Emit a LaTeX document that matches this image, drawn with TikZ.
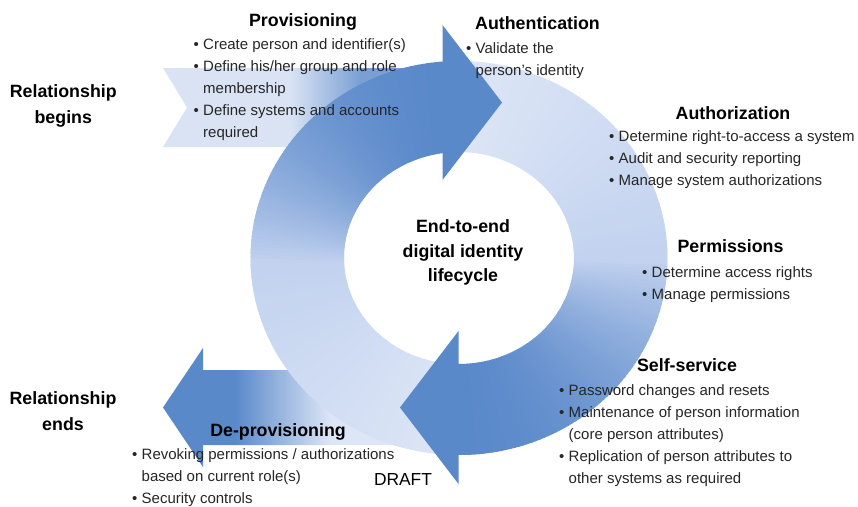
\documentclass[tikz,border=0pt]{standalone}
\usepackage{fontspec}
\setmainfont{Liberation Sans}
\usetikzlibrary{calc}

\definecolor{ringdark}{HTML}{5A89CA}
\definecolor{ringmid}{HTML}{C2D2EF}
\definecolor{ringpale}{HTML}{DDE6F6}
\definecolor{bandpale}{HTML}{D9E3F4}
\definecolor{bodytext}{HTML}{262626}

% bullet and hanging indent for list lines
\newcommand\bul{\makebox[9.5pt][l]{\textbullet}}
\newcommand\cnt{\hspace*{9.5pt}}

% curved arrow shaft drawn as thin ring slices, pale at the tail and dark at the head
% #1/#2: outer start/end angle, #3/#4: inner start/end angle
\newcommand\ringslices[4]{%
  \pgfmathsetmacro\ostep{(#2-#1)/144}%
  \pgfmathsetmacro\istep{(#4-#3)/144}%
  \foreach \i in {0,...,143}{%
    \pgfmathsetmacro\st{(\i+0.5)/144}%
    \pgfmathsetmacro\nx{min(\i+1.6,144)}%
    \pgfmathsetmacro\oa{#1+\ostep*\i}%
    \pgfmathsetmacro\ob{#1+\ostep*\nx}%
    \pgfmathsetmacro\ia{#3+\istep*\i}%
    \pgfmathsetmacro\ib{#3+\istep*\nx}%
    \pgfmathsetmacro\pa{min(100,200*\st)}%
    \pgfmathsetmacro\pb{\st>0.5 ? 100*(1-(2-2*\st)^2) : 0}%
    \colorlet{sliceA}{ringmid!\pa!ringpale}%
    \colorlet{sliceB}{ringdark!\pb!sliceA}%
    \fill[sliceB] (\oa:208.5 and 197)
      arc[start angle=\oa, end angle=\ob, x radius=208.5, y radius=197]
      -- (\ib:115 and 106)
      arc[start angle=\ib, end angle=\ia, x radius=115, y radius=106] -- cycle;
  }%
}

\tikzset{
  ttl/.style={font=\fontsize{17.8}{25}\selectfont\bfseries, text=black, inner sep=0pt, anchor=base},
  blist/.style={font=\fontsize{15}{22}\selectfont, text=bodytext, inner sep=0pt, anchor=north west, align=left},
  side/.style={font=\fontsize{17.8}{25.5}\selectfont\bfseries, text=black, inner sep=0pt, anchor=north, align=center},
}

\begin{document}
\begin{tikzpicture}[x=1pt,y=-1pt]
\useasboundingbox (0,0) rectangle (858,506);

% incoming band on the left ("relationship begins")
\begin{scope}
  \clip (163,68) -- (425,68) -- (425,147) -- (163,147) -- (187,107.5) -- cycle;
  \fill[bandpale] (160,60) rectangle (291,150);
  \shade[left color=bandpale, right color=ringdark!75!bandpale] (290,60) rectangle (361,150);
  \fill[ringdark!75!bandpale] (360,60) rectangle (430,150);
\end{scope}

% outgoing arrow on the left ("relationship ends")
\begin{scope}
  \clip (163,407.5) -- (203,348) -- (203,370) -- (405,370) -- (405,445) -- (203,445) -- (203,467) -- cycle;
  \fill[ringdark] (160,340) rectangle (236,470);
  \shade[left color=ringdark, right color=ringpale] (235,340) rectangle (331,470);
  \fill[ringpale] (330,340) rectangle (410,470);
\end{scope}

% the two curved arrows of the lifecycle ring
\begin{scope}[shift={(459,258)}]
  \ringslices{92}{265.6}{92}{262.0}
  \ringslices{271.5}{450.27}{271.5}{450.5}
\end{scope}
\fill[ringdark] (458.5,331) -- (400,407.5) -- (458.5,484) -- cycle;
\fill[ringdark] (442.5,25) -- (502,102.5) -- (442.5,180) -- cycle;

% side labels
\node[side] (begins) at (63.3,84.85) {Relationship\\begins};
\node[side] (ends) at (63,391.45) {Relationship\\ends};

% centre label
\node[font=\fontsize{17.8}{24.2}\selectfont\bfseries, inner sep=0pt, anchor=north, align=center]
  (life) at (463,219.8) {End-to-end\\digital identity\\lifecycle};

% stages
\node[ttl] (provT) at (303,26) {Provisioning};
\node[blist] (provB) at (193.5,33.9)
  {\strut\bul Create person and identifier(s)\\
   \strut\bul Define his/her group and role\\
   \strut\cnt membership\\
   \strut\bul Define systems and accounts\\
   \strut\cnt required};

\node[ttl] (authT) at (537.5,29.3) {Authentication};
\node[blist] (authB) at (466,37.9)
  {\strut\bul Validate the\\
   \strut\cnt person’s identity};

\node[ttl] (azT) at (733,119.3) {Authorization};
\node[blist] (azB) at (609,126.3)
  {\strut\bul Determine right-to-access a system\\
   \strut\bul Audit and security reporting\\
   \strut\bul Manage system authorizations};

\node[ttl] (permT) at (730.5,252.5) {Permissions};
\node[blist] (permB) at (642,261.9)
  {\strut\bul Determine access rights\\
   \strut\bul Manage permissions};

\node[ttl] (selfT) at (687,371.7) {Self-service};
\node[blist] (selfB) at (559,379.6)
  {\strut\bul Password changes and resets\\
   \strut\bul Maintenance of person information\\
   \strut\cnt (core person attributes)\\
   \strut\bul Replication of person attributes to\\
   \strut\cnt other systems as required};

\node[ttl] (deT) at (278,436.7) {De-provisioning};
\node[blist] (deB) at (132,443.9)
  {\strut\bul Revoking permissions / authorizations\\
   \strut\cnt based on current role(s)\\
   \strut\bul Security controls};

\node[font=\fontsize{17.4}{20}\selectfont, inner sep=0pt, anchor=base] (draft) at (403,485) {DRAFT};
\end{tikzpicture}
\end{document}
